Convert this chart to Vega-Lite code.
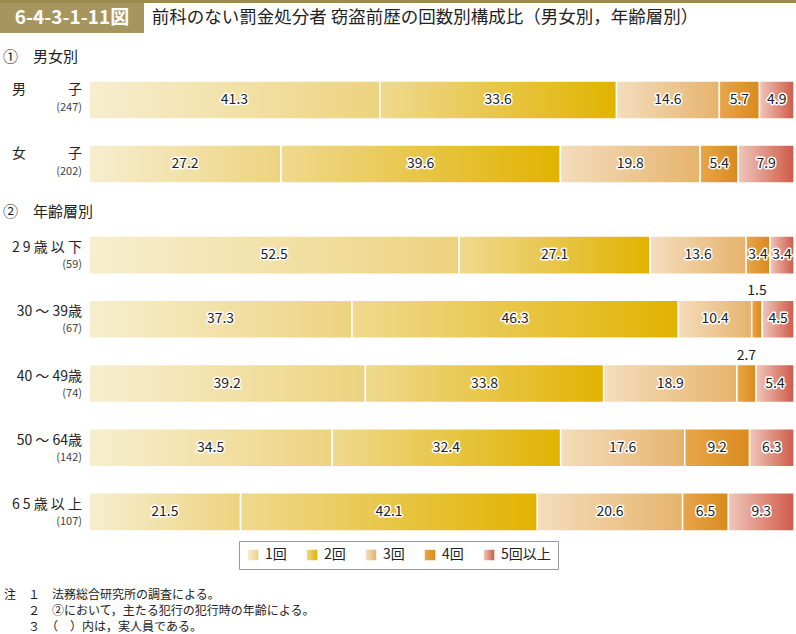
{
  "$schema": "https://vega.github.io/schema/vega-lite/v6.json",
  "padding": {"left": 0, "top": 0, "right": 0, "bottom": 0},
  "background": "white",
  "config": {
    "font": "Noto Sans CJK JP",
    "view": {"stroke": null}
  },
  "datasets": {
    "rows": [
      {"section": "gender", "label": "男　　　子", "n": "(247)", "category": "1回", "value": 41.3},
      {"section": "gender", "label": "男　　　子", "n": "(247)", "category": "2回", "value": 33.6},
      {"section": "gender", "label": "男　　　子", "n": "(247)", "category": "3回", "value": 14.6},
      {"section": "gender", "label": "男　　　子", "n": "(247)", "category": "4回", "value": 5.7},
      {"section": "gender", "label": "男　　　子", "n": "(247)", "category": "5回以上", "value": 4.9},
      {"section": "gender", "label": "女　　　子", "n": "(202)", "category": "1回", "value": 27.2},
      {"section": "gender", "label": "女　　　子", "n": "(202)", "category": "2回", "value": 39.6},
      {"section": "gender", "label": "女　　　子", "n": "(202)", "category": "3回", "value": 19.8},
      {"section": "gender", "label": "女　　　子", "n": "(202)", "category": "4回", "value": 5.4},
      {"section": "gender", "label": "女　　　子", "n": "(202)", "category": "5回以上", "value": 7.9},
      {"section": "age", "label": "2 9 歳 以 下", "n": "(59)", "category": "1回", "value": 52.5},
      {"section": "age", "label": "2 9 歳 以 下", "n": "(59)", "category": "2回", "value": 27.1},
      {"section": "age", "label": "2 9 歳 以 下", "n": "(59)", "category": "3回", "value": 13.6},
      {"section": "age", "label": "2 9 歳 以 下", "n": "(59)", "category": "4回", "value": 3.4},
      {"section": "age", "label": "2 9 歳 以 下", "n": "(59)", "category": "5回以上", "value": 3.4},
      {"section": "age", "label": "30 ～ 39歳", "n": "(67)", "category": "1回", "value": 37.3},
      {"section": "age", "label": "30 ～ 39歳", "n": "(67)", "category": "2回", "value": 46.3},
      {"section": "age", "label": "30 ～ 39歳", "n": "(67)", "category": "3回", "value": 10.4},
      {"section": "age", "label": "30 ～ 39歳", "n": "(67)", "category": "4回", "value": 1.5},
      {"section": "age", "label": "30 ～ 39歳", "n": "(67)", "category": "5回以上", "value": 4.5},
      {"section": "age", "label": "40 ～ 49歳", "n": "(74)", "category": "1回", "value": 39.2},
      {"section": "age", "label": "40 ～ 49歳", "n": "(74)", "category": "2回", "value": 33.8},
      {"section": "age", "label": "40 ～ 49歳", "n": "(74)", "category": "3回", "value": 18.9},
      {"section": "age", "label": "40 ～ 49歳", "n": "(74)", "category": "4回", "value": 2.7},
      {"section": "age", "label": "40 ～ 49歳", "n": "(74)", "category": "5回以上", "value": 5.4},
      {"section": "age", "label": "50 ～ 64歳", "n": "(142)", "category": "1回", "value": 34.5},
      {"section": "age", "label": "50 ～ 64歳", "n": "(142)", "category": "2回", "value": 32.4},
      {"section": "age", "label": "50 ～ 64歳", "n": "(142)", "category": "3回", "value": 17.6},
      {"section": "age", "label": "50 ～ 64歳", "n": "(142)", "category": "4回", "value": 9.2},
      {"section": "age", "label": "50 ～ 64歳", "n": "(142)", "category": "5回以上", "value": 6.3},
      {"section": "age", "label": "6 5 歳 以 上", "n": "(107)", "category": "1回", "value": 21.5},
      {"section": "age", "label": "6 5 歳 以 上", "n": "(107)", "category": "2回", "value": 42.1},
      {"section": "age", "label": "6 5 歳 以 上", "n": "(107)", "category": "3回", "value": 20.6},
      {"section": "age", "label": "6 5 歳 以 上", "n": "(107)", "category": "4回", "value": 6.5},
      {"section": "age", "label": "6 5 歳 以 上", "n": "(107)", "category": "5回以上", "value": 9.3}
    ]
  },
  "title": {
    "text": ["注　１　法務総合研究所の調査による。", "\u200b　　２　②において，主たる犯行の犯行時の年齢による。", "\u200b　　３　（　）内は，実人員である。"],
    "orient": "bottom", "anchor": "start", "frame": "bounds", "offset": 20,
    "fontSize": 12, "fontWeight": "normal", "color": "#222", "lineHeight": 16, "dx": 4
  },
  "spacing": 17,
  "vconcat": [
    {
      "spacing": 0,
      "vconcat": [
        {"width": 796, "height": 3, "view": {"fill": "#9c8b4f", "stroke": null}, "data": {"values": []}, "mark": "point"},
        {
          "spacing": 0,
          "hconcat": [
            {"width": 144, "height": 30, "view": {"fill": "#a6955f", "stroke": null}, "data": {"values": [{"t": "6-4-3-1-11図"}]}, "mark": {"type": "text", "color": "white", "fontSize": 19, "fontWeight": "bold"}, "encoding": {"text": {"field": "t"}}},
            {"width": 562, "height": 30, "data": {"values": [{"t": "前科のない罰金処分者 窃盗前歴の回数別構成比（男女別，年齢層別）"}]}, "mark": {"type": "text", "color": "#222", "fontSize": 17.5}, "encoding": {"text": {"field": "t"}}}
          ]
        }
      ]
    },
    {
      "spacing": 9,
      "vconcat": [
        {
          "title": {"text": "①　男女別", "anchor": "start", "frame": "group", "fontSize": 15, "fontWeight": "normal", "color": "#222", "offset": 3, "dx": 3},
          "spacing": 0,
          "hconcat": [
            {
              "width": 88, "height": 128,
              "data": {"name": "rows"},
              "transform": [{"filter": "datum.section === 'gender' && datum.category === '1回'"}],
              "layer": [
                {
                  "mark": {"type": "text", "align": "right", "dx": 38, "dy": -10, "fontSize": 14, "fill": "#222"},
                  "encoding": {
                    "y": {"field": "label", "type": "nominal", "sort": null, "axis": null, "scale": {"paddingInner": 0.406, "paddingOuter": 0.203}},
                    "text": {"field": "label"}
                  }
                },
                {
                  "mark": {"type": "text", "align": "right", "dx": 38, "dy": 8, "fontSize": 11, "fill": "#444"},
                  "encoding": {
                    "y": {"field": "label", "type": "nominal", "sort": null, "axis": null},
                    "text": {"field": "n"}
                  }
                }
              ]
            },
            {
              "width": 705, "height": 128,
              "data": {"name": "rows"},
              "transform": [
                {"filter": "datum.section === 'gender'"},
                {"stack": "value", "groupby": ["label"], "sort": [{"field": "category"}], "offset": "normalize", "as": ["x0", "x1"]}
              ],
              "layer": [
                {
                  "mark": {"type": "bar", "stroke": "white", "strokeWidth": 1.5},
                  "encoding": {
                    "y": {"field": "label", "type": "nominal", "sort": null, "axis": null, "scale": {"paddingInner": 0.406, "paddingOuter": 0.203}},
                    "x": {"field": "x0", "type": "quantitative", "scale": {"domain": [0, 1], "nice": false}, "axis": null},
                    "x2": {"field": "x1"},
                    "color": {"field": "category", "type": "nominal",
                      "scale": {"domain": ["1回", "2回", "3回", "4回", "5回以上"], "range": [
                        {"expr": "{gradient: 'linear', stops: [{offset: 0, color: '#f7eed0'}, {offset: 1, color: '#edd37f'}]}"},
                        {"expr": "{gradient: 'linear', stops: [{offset: 0, color: '#efd98f'}, {offset: 1, color: '#e1b300'}]}"},
                        {"expr": "{gradient: 'linear', stops: [{offset: 0, color: '#f4ddbd'}, {offset: 1, color: '#e6b36c'}]}"},
                        {"expr": "{gradient: 'linear', stops: [{offset: 0, color: '#e8a64a'}, {offset: 1, color: '#d98a1e'}]}"},
                        {"expr": "{gradient: 'linear', stops: [{offset: 0, color: '#f0c6ba'}, {offset: 1, color: '#cf5a48'}]}"}
                      ]},
                      "legend": {"orient": "none", "legendX": 239, "legendY": 541, "direction": "horizontal", "title": null, "symbolType": "square", "symbolSize": 110, "symbolStrokeWidth": 0, "labelFontSize": 14, "labelColor": "#222", "strokeColor": "#999", "padding": 7, "columnPadding": 18, "labelOffset": 5}
                    }
                  }
                },
                {
                  "transform": [{"filter": "datum.value >= 3"}, {"fold": ["x0", "x1"], "as": ["k", "pos"]}],
                  "mark": {"type": "text", "fontSize": 14, "stroke": "white", "strokeWidth": 3, "strokeJoin": "round", "fill": "white"},
                  "encoding": {
                    "y": {"field": "label", "type": "nominal", "sort": null, "axis": null},
                    "x": {"aggregate": "mean", "field": "pos", "type": "quantitative"},
                    "text": {"field": "value", "type": "quantitative", "format": ".1f"},
                    "detail": {"field": "category"}
                  }
                },
                {
                  "transform": [{"filter": "datum.value >= 3"}, {"fold": ["x0", "x1"], "as": ["k", "pos"]}],
                  "mark": {"type": "text", "fontSize": 14, "fill": "#222"},
                  "encoding": {
                    "y": {"field": "label", "type": "nominal", "sort": null, "axis": null},
                    "x": {"aggregate": "mean", "field": "pos", "type": "quantitative"},
                    "text": {"field": "value", "type": "quantitative", "format": ".1f"},
                    "detail": {"field": "category"}
                  }
                }
              ]
            }
          ]
        },
        {
          "title": {"text": "②　年齢層別", "anchor": "start", "frame": "group", "fontSize": 15, "fontWeight": "normal", "color": "#222", "offset": 3, "dx": 3},
          "spacing": 0,
          "hconcat": [
            {
              "width": 88, "height": 321,
              "data": {"name": "rows"},
              "transform": [{"filter": "datum.section === 'age' && datum.category === '1回'"}],
              "layer": [
                {
                  "mark": {"type": "text", "align": "right", "dx": 38, "dy": -7, "fontSize": 14, "fill": "#222"},
                  "encoding": {
                    "y": {"field": "label", "type": "nominal", "sort": null, "axis": null, "scale": {"paddingInner": 0.406, "paddingOuter": 0.203}},
                    "text": {"field": "label"}
                  }
                },
                {
                  "mark": {"type": "text", "align": "right", "dx": 38, "dy": 10, "fontSize": 11, "fill": "#444"},
                  "encoding": {
                    "y": {"field": "label", "type": "nominal", "sort": null, "axis": null},
                    "text": {"field": "n"}
                  }
                }
              ]
            },
            {
              "width": 705, "height": 321,
              "data": {"name": "rows"},
              "transform": [
                {"filter": "datum.section === 'age'"},
                {"stack": "value", "groupby": ["label"], "sort": [{"field": "category"}], "offset": "normalize", "as": ["x0", "x1"]}
              ],
              "layer": [
                {
                  "mark": {"type": "bar", "stroke": "white", "strokeWidth": 1.5},
                  "encoding": {
                    "y": {"field": "label", "type": "nominal", "sort": null, "axis": null, "scale": {"paddingInner": 0.406, "paddingOuter": 0.203}},
                    "x": {"field": "x0", "type": "quantitative", "scale": {"domain": [0, 1], "nice": false}, "axis": null},
                    "x2": {"field": "x1"},
                    "color": {"field": "category", "type": "nominal",
                      "scale": {"domain": ["1回", "2回", "3回", "4回", "5回以上"], "range": [
                        {"expr": "{gradient: 'linear', stops: [{offset: 0, color: '#f7eed0'}, {offset: 1, color: '#edd37f'}]}"},
                        {"expr": "{gradient: 'linear', stops: [{offset: 0, color: '#efd98f'}, {offset: 1, color: '#e1b300'}]}"},
                        {"expr": "{gradient: 'linear', stops: [{offset: 0, color: '#f4ddbd'}, {offset: 1, color: '#e6b36c'}]}"},
                        {"expr": "{gradient: 'linear', stops: [{offset: 0, color: '#e8a64a'}, {offset: 1, color: '#d98a1e'}]}"},
                        {"expr": "{gradient: 'linear', stops: [{offset: 0, color: '#f0c6ba'}, {offset: 1, color: '#cf5a48'}]}"}
                      ]},
                      "legend": {"orient": "none", "legendX": 239, "legendY": 541, "direction": "horizontal", "title": null, "symbolType": "square", "symbolSize": 110, "symbolStrokeWidth": 0, "labelFontSize": 14, "labelColor": "#222", "strokeColor": "#999", "padding": 7, "columnPadding": 18, "labelOffset": 5}
                    }
                  }
                },
                {
                  "transform": [{"filter": "datum.value >= 3"}, {"fold": ["x0", "x1"], "as": ["k", "pos"]}],
                  "mark": {"type": "text", "fontSize": 14, "stroke": "white", "strokeWidth": 3, "strokeJoin": "round", "fill": "white"},
                  "encoding": {
                    "y": {"field": "label", "type": "nominal", "sort": null, "axis": null},
                    "x": {"aggregate": "mean", "field": "pos", "type": "quantitative"},
                    "text": {"field": "value", "type": "quantitative", "format": ".1f"},
                    "detail": {"field": "category"}
                  }
                },
                {
                  "transform": [{"filter": "datum.value >= 3"}, {"fold": ["x0", "x1"], "as": ["k", "pos"]}],
                  "mark": {"type": "text", "fontSize": 14, "fill": "#222"},
                  "encoding": {
                    "y": {"field": "label", "type": "nominal", "sort": null, "axis": null},
                    "x": {"aggregate": "mean", "field": "pos", "type": "quantitative"},
                    "text": {"field": "value", "type": "quantitative", "format": ".1f"},
                    "detail": {"field": "category"}
                  }
                },
                {
                  "transform": [{"filter": "datum.value < 3"}, {"fold": ["x0", "x1"], "as": ["k", "pos"]}],
                  "mark": {"type": "text", "fontSize": 14, "fill": "#222", "dy": -28},
                  "encoding": {
                    "y": {"field": "label", "type": "nominal", "sort": null, "axis": null},
                    "x": {"aggregate": "mean", "field": "pos", "type": "quantitative"},
                    "text": {"field": "value", "type": "quantitative", "format": ".1f"},
                    "detail": {"field": "category"}
                  }
                }
              ]
            }
          ]
        }
      ]
    }
  ]
}
